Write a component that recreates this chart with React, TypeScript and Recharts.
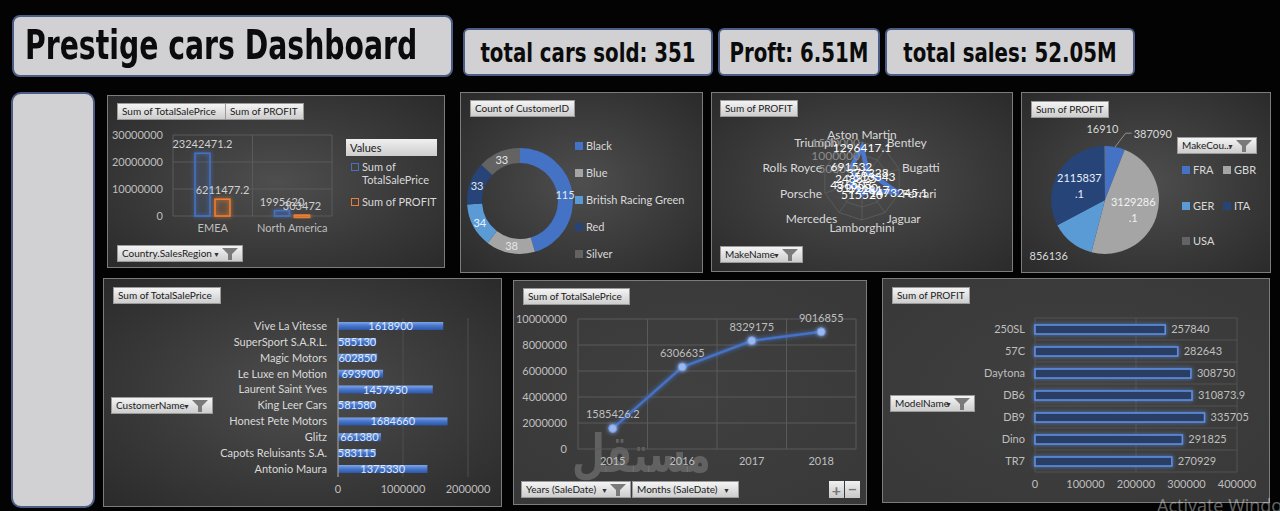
import React from "react";
import {
  BarChart,
  Bar,
  XAxis,
  YAxis,
  CartesianGrid,
  LabelList,
  PieChart,
  Pie,
  Cell,
  RadarChart,
  Radar,
  PolarGrid,
  PolarAngleAxis,
  PolarRadiusAxis,
  LineChart,
  Line,
} from "recharts";

// ---- data ----
const regionNames = ["EMEA", "North America"];
const regionSales = [23242471.2, 1995620];
const regionProfit = [6211477.2, 303472];

const colourNames = ["Black", "Blue", "British Racing Green", "Red", "Silver"];
const colourCounts = [115, 38, 34, 33, 33];

const makeNames = [
  "Aston Martin",
  "Bentley",
  "Bugatti",
  "Ferrari",
  "Jaguar",
  "Lamborghini",
  "Mercedes",
  "Porsche",
  "Rolls Royce",
  "Triumph",
];
const makeProfit = [1296417.1, 376228, 513343, 1473245.1, 422817, 515520, 319000, 436503, 248825, 691532];

const countryNames = ["FRA", "GBR", "GER", "ITA", "USA"];
const countryProfit = [387090, 3129286.1, 856136, 2115837.1, 16910];

const customerNames = [
  "Vive La Vitesse",
  "SuperSport S.A.R.L.",
  "Magic Motors",
  "Le Luxe en Motion",
  "Laurent Saint Yves",
  "King Leer Cars",
  "Honest Pete Motors",
  "Glitz",
  "Capots Reluisants S.A.",
  "Antonio Maura",
];
const customerSales = [1618900, 585130, 602850, 693900, 1457950, 581580, 1684660, 661380, 583115, 1375330];

const saleYears = ["2015", "2016", "2017", "2018"];
const yearSales = [1585426.2, 6306635, 8329175, 9016855];

const modelNames = ["250SL", "57C", "Daytona", "DB6", "DB9", "Dino", "TR7"];
const modelProfit = [257840, 282643, 308750, 310873.9, 335705, 291825, 270929];

const regionTicks = [0, 10000000, 20000000, 30000000];
const customerTicks = [0, 1000000, 2000000];
const yearTicks = [0, 2000000, 4000000, 6000000, 8000000, 10000000];
const modelTicks = [0, 100000, 200000, 300000, 400000];

// ---- styling ----
const BLUE = "#4472c4";
const ORANGE = "#ed7d31";
const GRAY = "#a5a5a5";
const LIGHT_BLUE = "#5b9bd5";
const DARK_BLUE = "#264478";
const DARK_GRAY = "#636363";
const sliceColours = [BLUE, GRAY, LIGHT_BLUE, DARK_BLUE, DARK_GRAY];
const AX = "#bfbfbf";
const GRID = "#5a5a5a";
const RADIAN = Math.PI / 180;

const regionData = regionNames.map((name, i) => ({ name, sales: regionSales[i], profit: regionProfit[i] }));
const colourData = colourNames.map((name, i) => ({ name, value: colourCounts[i] }));
const makeData = makeNames.map((name, i) => ({ name, value: makeProfit[i] }));
const countryData = countryNames.map((name, i) => ({ name, value: countryProfit[i] }));
const customerData = customerNames.map((name, i) => ({ name, value: customerSales[i] }));
const yearData = saleYears.map((name, i) => ({ name, value: yearSales[i] }));
const modelData = modelNames.map((name, i) => ({ name, value: modelProfit[i] }));

const at = (x: number, y: number, w: number, h: number): React.CSSProperties => ({
  position: "absolute",
  left: x,
  top: y,
  width: w,
  height: h,
});

const bandEdgesX = (n: number) => ({ offset }: any) =>
  Array.from({ length: n + 1 }, (_, i) => offset.left + (offset.width * i) / n);
const bandEdgesY = (n: number) => ({ offset }: any) =>
  Array.from({ length: n + 1 }, (_, i) => offset.top + (offset.height * i) / n);

function Panel({ x, y, w, h, flat }: { x: number; y: number; w: number; h: number; flat?: boolean }) {
  return (
    <div
      style={{
        ...at(x, y, w, h),
        background: flat
          ? "radial-gradient(ellipse at center, #404040 0%, #383838 100%)"
          : "radial-gradient(ellipse at center, #4e4e4e 0%, #383838 60%, #2a2a2a 100%)",
        boxShadow: "inset 0 0 0 1px #7c7c7c",
      }}
    />
  );
}

function Funnel() {
  return (
    <svg width="18" height="14" style={{ position: "absolute", right: 3, top: 1 }}>
      <path d="M1 1 H17 L11 7 V13 H7 V7 Z" fill="#7a7a7a" />
    </svg>
  );
}

function Btn({ x, y, w, text, slicer, arrow }: { x: number; y: number; w: number; text: string; slicer?: boolean; arrow?: boolean }) {
  return (
    <div
      style={{
        ...at(x, y, w, 17),
        boxSizing: "border-box",
        background: "linear-gradient(#f4f4f4, #cdcdcd)",
        border: "1px solid #9a9a9a",
        fontSize: 10,
        color: "#1a1a1a",
        lineHeight: "15px",
        paddingLeft: 4,
        whiteSpace: "nowrap",
        overflow: "hidden",
      }}
    >
      {text}
      {slicer && <span style={{ position: "absolute", right: 22, top: 1, fontSize: 7, color: "#333" }}>▼</span>}
      {slicer && <Funnel />}
      {arrow && <span style={{ position: "absolute", right: 8, top: 1, fontSize: 7, color: "#333" }}>▼</span>}
    </div>
  );
}

function LegendItem({ x, y, color, text, outline }: { x: number; y: number; color: string; text: string; outline?: boolean }) {
  return (
    <div style={{ position: "absolute", left: x, top: y - 8, fontSize: 11, color: "#d9d9d9", whiteSpace: "nowrap", lineHeight: "16px" }}>
      <span
        style={{
          display: "inline-block",
          boxSizing: "border-box",
          width: 8,
          height: 8,
          marginRight: 3,
          background: outline ? "transparent" : color,
          border: outline ? `1.5px solid ${color}` : "none",
        }}
      />
      {text}
    </div>
  );
}

const outlineBar = (stroke: string, fill: string, glow: string) => (p: any) =>
  (
    <rect
      x={p.x}
      y={p.y}
      width={p.width}
      height={Math.max(p.height, 2)}
      fill={fill}
      stroke={stroke}
      strokeWidth={1.6}
      filter={`url(#${glow})`}
    />
  );

const donutLabel = (p: any) => {
  const r = (p.innerRadius + p.outerRadius) / 2;
  const x = p.cx + r * Math.cos(-p.midAngle * RADIAN);
  const y = p.cy + r * Math.sin(-p.midAngle * RADIAN);
  return (
    <text x={x} y={y} fill={p.index === 2 ? "#e8f0ff" : "#e6e6e6"} fontSize={11} textAnchor="middle" dominantBaseline="central">
      {p.value}
    </text>
  );
};

const pieLabel = (p: any) => {
  const cos = Math.cos(-p.midAngle * RADIAN);
  const sin = Math.sin(-p.midAngle * RADIAN);
  const txt = String(p.value);
  if (p.percent > 0.2) {
    const r = p.outerRadius * 0.55;
    const [a, b] = txt.split(".");
    const x = p.cx + r * cos;
    const y = p.cy + r * sin;
    return (
      <text x={x} y={y} fill={p.index === 1 ? "#f2f2f2" : "#e8eefa"} fontSize={11} textAnchor="middle">
        <tspan x={x} dy={-3}>{a}</tspan>
        {b && <tspan x={x} dy={16}>.{b}</tspan>}
      </text>
    );
  }
  if (p.index === 0) {
    const sx = p.cx + p.outerRadius * cos;
    const sy = p.cy + p.outerRadius * sin;
    const ex = p.cx + (p.outerRadius + 14) * cos + 8;
    const ey = p.cy + (p.outerRadius + 14) * sin;
    return (
      <g>
        <polyline points={`${sx},${sy} ${ex},${ey} ${ex + 6},${ey}`} fill="none" stroke="#a6a6a6" strokeWidth={0.8} />
        <text x={ex + 8} y={ey} fill="#d9d9d9" fontSize={11} dominantBaseline="central">
          {txt}
        </text>
      </g>
    );
  }
  if (p.index === 4) {
    const x = p.cx + (p.outerRadius + 18) * cos - 2;
    const y = p.cy + (p.outerRadius + 18) * sin;
    return (
      <text x={x} y={y} fill="#d9d9d9" fontSize={11} textAnchor="middle" dominantBaseline="central">
        {txt}
      </text>
    );
  }
  const x = p.cx + (p.outerRadius + 6) * cos;
  const y = p.cy + (p.outerRadius + 6) * sin;
  return (
    <text x={x} y={y + 8} fill="#d9d9d9" fontSize={11} textAnchor="end" dominantBaseline="central">
      {txt}
    </text>
  );
};

const radiusTick = (p: any) =>
  p.payload.value === 0 ? (
    <g />
  ) : (
    <text x={p.x - 2} y={p.y} fill="#8c8c8c" fontSize={12} textAnchor="end" dominantBaseline="central">
      {p.payload.value}
    </text>
  );

const titleFont = '"DejaVu Sans", sans-serif';

export default function App() {
  return (
    <div
      style={{
        position: "fixed",
        left: 0,
        top: 0,
        width: 1280,
        height: 511,
        overflow: "hidden",
        background: "#030303",
        fontFamily: 'Lato, "Open Sans", sans-serif',
      }}
    >
      <svg width="0" height="0" style={{ position: "absolute" }}>
        <defs>
          <filter id="glowBlue" x="-50%" y="-50%" width="200%" height="200%">
            <feGaussianBlur in="SourceGraphic" stdDeviation="2.2" result="b" />
            <feMerge>
              <feMergeNode in="b" />
              <feMergeNode in="SourceGraphic" />
            </feMerge>
          </filter>
          <filter id="glowOrange" x="-50%" y="-50%" width="200%" height="200%">
            <feGaussianBlur in="SourceGraphic" stdDeviation="2.2" result="b" />
            <feMerge>
              <feMergeNode in="b" />
              <feMergeNode in="SourceGraphic" />
            </feMerge>
          </filter>
          <linearGradient id="custBar" x1="0" y1="0" x2="0" y2="1">
            <stop offset="0%" stopColor="#7ea6e8" />
            <stop offset="45%" stopColor="#4a78cc" />
            <stop offset="100%" stopColor="#2c56a8" />
          </linearGradient>
        </defs>
      </svg>

      {/* title + KPI boxes */}
      <div
        style={{
          ...at(12, 15, 441, 62),
          boxSizing: "border-box",
          background: "#d1d0d2",
          border: "2px solid #4b5d86",
          borderRadius: 8,
          overflow: "hidden",
        }}
      >
        <span
          style={{
            position: "absolute",
            left: 11,
            top: 0,
            fontFamily: titleFont,
            fontWeight: 700,
            fontSize: 41,
            lineHeight: "56px",
            color: "#0b0b0b",
            whiteSpace: "nowrap",
            transform: "scaleX(0.69)",
            transformOrigin: "left center",
          }}
        >
          Prestige cars Dashboard
        </span>
      </div>
      {[
        { x: 463, w: 250, t: "total cars sold: 351" },
        { x: 718, w: 162, t: "Proft: 6.51M" },
        { x: 885, w: 250, t: "total sales: 52.05M" },
      ].map((k) => (
        <div
          key={k.t}
          style={{
            ...at(k.x, 28, k.w, 48),
            boxSizing: "border-box",
            background: "#d1d0d2",
            border: "2px solid #4b5d86",
            borderRadius: 6,
            overflow: "hidden",
          }}
        >
          <span
            style={{
              position: "absolute",
              left: "50%",
              top: 0,
              fontFamily: titleFont,
              fontWeight: 700,
              fontSize: 26,
              lineHeight: "46px",
              color: "#0b0b0b",
              whiteSpace: "nowrap",
              transform: "translateX(-50%) scaleX(0.76)",
              transformOrigin: "center",
            }}
          >
            {k.t}
          </span>
        </div>
      ))}
      <div
        style={{
          ...at(11, 92, 84, 416),
          boxSizing: "border-box",
          background: "#d1d0d2",
          border: "2px solid #4b5d86",
          borderRadius: 10,
        }}
      />

      {/* panel backgrounds */}
      <Panel x={107} y={95} w={338} h={173} />
      <Panel x={460} y={92} w={243} h={181} />
      <Panel x={711} y={92} w={302} h={180} />
      <Panel x={1021} y={92} w={250} h={181} />
      <Panel x={103} y={278} w={399} h={229} />
      <Panel x={513} y={280} w={354} h={225} flat />
      <Panel x={882} y={278} w={388} h={225} flat />

      {/* region bar chart */}
      <div style={at(107, 95, 338, 173)}>
        <BarChart width={338} height={173} data={regionData} margin={{ top: 40, right: 113, bottom: 32, left: 0 }} barGap={5} barSize={15}>
          <CartesianGrid stroke={GRID} verticalCoordinatesGenerator={bandEdgesX(2)} />
          <XAxis dataKey="name" axisLine={false} tickLine={false} tick={{ fill: AX, fontSize: 11 }} interval={0} height={20} />
          <YAxis width={66} domain={[0, 30000000]} ticks={regionTicks} axisLine={false} tickLine={false} tickSize={0} tickMargin={10} tick={{ fill: AX, fontSize: 11 }} />
          <Bar dataKey="sales" isAnimationActive={false} shape={outlineBar(BLUE, "rgba(68,114,196,0.08)", "glowBlue")}>
            <LabelList dataKey="sales" position="top" fill="#d0d0d0" fontSize={11} />
          </Bar>
          <Bar dataKey="profit" isAnimationActive={false} shape={outlineBar(ORANGE, "rgba(237,125,49,0.1)", "glowOrange")}>
            <LabelList dataKey="profit" position="top" fill="#d0d0d0" fontSize={11} />
          </Bar>
        </BarChart>
      </div>
      <Btn x={117} y={103} w={109} text="Sum of TotalSalePrice" />
      <Btn x={225} y={103} w={79} text="Sum of PROFIT" />
      <Btn x={117} y={245} w={126} text="Country.SalesRegion" slicer />
      <div
        style={{
          ...at(346, 139, 91, 17),
          background: "linear-gradient(#f0f0f0, #cdcdcd)",
          fontSize: 11,
          lineHeight: "17px",
          paddingLeft: 4,
          boxSizing: "border-box",
          color: "#1a1a1a",
        }}
      >
        Values
      </div>
      <LegendItem x={351} y={167} color={BLUE} text="Sum of" outline />
      <div style={{ position: "absolute", left: 362, top: 173, fontSize: 11, color: "#d9d9d9" }}>TotalSalePrice</div>
      <LegendItem x={351} y={202} color={ORANGE} text="Sum of PROFIT" outline />

      {/* colour donut */}
      <div style={at(460, 92, 243, 181)}>
        <PieChart width={243} height={181}>
          <Pie
            data={colourData}
            dataKey="value"
            cx={55}
            cy={104}
            innerRadius={38}
            outerRadius={53}
            startAngle={90}
            endAngle={-270}
            stroke="none"
            label={donutLabel}
            labelLine={false}
            isAnimationActive={false}
          >
            {colourData.map((d, i) => (
              <Cell key={d.name} fill={sliceColours[i]} />
            ))}
          </Pie>
        </PieChart>
      </div>
      <Btn x={470} y={100} w={105} text="Count of CustomerID" />
      {colourNames.map((n, i) => (
        <LegendItem key={n} x={575} y={146 + i * 27} color={sliceColours[i]} text={n} />
      ))}

      {/* make radar */}
      <div style={at(711, 92, 302, 180)}>
        <RadarChart width={302} height={180} cx={151} cy={89} outerRadius={39} data={makeData}>
          <PolarGrid stroke={GRID} />
          <PolarAngleAxis dataKey="name" tick={{ fill: "#d9d9d9", fontSize: 12 }} tickLine={false} tickSize={3} />
          <PolarRadiusAxis angle={90} domain={[0, 1500000]} tickCount={4} axisLine={false} tick={radiusTick} />
          <Radar
            dataKey="value"
            stroke="#4a78d0"
            strokeWidth={4.5}
            fill={BLUE}
            fillOpacity={0}
            dot={false}
            isAnimationActive={false}
            label={{ fill: "#ffffff", fontSize: 12 }}
          />
        </RadarChart>
      </div>
      <Btn x={720} y={100} w={78} text="Sum of PROFIT" />
      <Btn x={720} y={246} w={83} text="MakeName" slicer />

      {/* country pie */}
      <div style={at(1021, 92, 250, 181)}>
        <PieChart width={250} height={181}>
          <Pie
            data={countryData}
            dataKey="value"
            cx={79}
            cy={103}
            outerRadius={54}
            startAngle={90}
            endAngle={-270}
            stroke="none"
            label={pieLabel}
            labelLine={false}
            isAnimationActive={false}
          >
            {countryData.map((d, i) => (
              <Cell key={d.name} fill={sliceColours[i]} />
            ))}
          </Pie>
        </PieChart>
      </div>
      <Btn x={1031} y={101} w={78} text="Sum of PROFIT" />
      <Btn x={1177} y={137} w={80} text="MakeCou..." slicer />
      {countryNames.map((n, i) => (
        <LegendItem key={n} x={i % 2 === 0 ? 1182 : 1223} y={170 + Math.floor(i / 2) * 35.5} color={sliceColours[i]} text={n} />
      ))}

      {/* customer bars */}
      <div style={at(103, 278, 399, 229)}>
        <BarChart width={399} height={229} layout="vertical" data={customerData} margin={{ top: 40, right: 34, bottom: 10, left: 0 }} barSize={8}>
          <CartesianGrid stroke="#4f4f4f" horizontal={false} />
          <XAxis type="number" domain={[0, 2000000]} ticks={customerTicks} axisLine={false} tickLine={false} tick={{ fill: AX, fontSize: 11 }} height={20} />
          <YAxis type="category" dataKey="name" width={235} axisLine={{ stroke: "#a6a6a6" }} tickLine={false} tickSize={0} tickMargin={11} tick={{ fill: "#d9d9d9", fontSize: 11 }} interval={0} />
          <Bar dataKey="value" fill="url(#custBar)" isAnimationActive={false}>
            <LabelList dataKey="value" position="center" fill="#dfe8f8" fontSize={11} />
          </Bar>
        </BarChart>
      </div>
      <Btn x={113} y={287} w={108} text="Sum of TotalSalePrice" />
      <Btn x={111} y={397} w={102} text="CustomerName" slicer />

      {/* yearly line, with the faded site watermark behind it */}
      <div
        style={{
          position: "absolute",
          left: 572,
          top: 424,
          fontFamily: '"DejaVu Sans", sans-serif',
          fontSize: 52,
          lineHeight: "60px",
          fontWeight: 700,
          color: "rgba(150,150,150,0.42)",
          whiteSpace: "nowrap",
          transform: "scaleX(0.73)",
          transformOrigin: "left",
        }}
      >
        مستقل
      </div>
      <div style={at(513, 280, 354, 225)}>
        <LineChart width={354} height={225} data={yearData} margin={{ top: 39, right: 11, bottom: 31, left: 0 }}>
          <CartesianGrid stroke={GRID} verticalCoordinatesGenerator={bandEdgesX(4)} />
          <XAxis dataKey="name" scale="band" axisLine={false} tickLine={false} tick={{ fill: AX, fontSize: 11 }} height={25} />
          <YAxis width={65} domain={[0, 10000000]} ticks={yearTicks} axisLine={false} tickLine={false} tickSize={0} tickMargin={11} tick={{ fill: AX, fontSize: 11 }} />
          <Line
            dataKey="value"
            stroke={BLUE}
            strokeWidth={2.5}
            filter="url(#glowBlue)"
            dot={{ r: 4, fill: "#9bb8ee", stroke: "#6d95dc", strokeWidth: 1 }}
            isAnimationActive={false}
          >
            <LabelList dataKey="value" position="top" offset={10} fill={AX} fontSize={11} />
          </Line>
        </LineChart>
      </div>
      <Btn x={523} y={288} w={107} text="Sum of TotalSalePrice" />
      <Btn x={521} y={481} w={110} text="Years (SaleDate)" slicer />
      <Btn x={632} y={481} w={107} text="Months (SaleDate)" arrow />
      <div style={{ ...at(829, 481, 15, 17), background: "linear-gradient(#f0f0f0,#c8c8c8)", color: "#777", fontSize: 16, fontWeight: 700, textAlign: "center", lineHeight: "17px" }}>+</div>
      <div style={{ ...at(845, 481, 15, 17), background: "linear-gradient(#f0f0f0,#c8c8c8)", color: "#777", fontSize: 16, fontWeight: 700, textAlign: "center", lineHeight: "15px" }}>−</div>

      {/* model bars */}
      <div style={at(882, 278, 388, 225)}>
        <BarChart width={388} height={225} layout="vertical" data={modelData} margin={{ top: 40, right: 33, bottom: 11, left: 0 }} barSize={9}>
          <CartesianGrid stroke="#525252" horizontalCoordinatesGenerator={bandEdgesY(7)} />
          <XAxis type="number" domain={[0, 400000]} ticks={modelTicks} axisLine={false} tickLine={false} tick={{ fill: AX, fontSize: 11 }} height={20} />
          <YAxis type="category" dataKey="name" width={153} axisLine={false} tickLine={false} tickSize={0} tickMargin={10} tick={{ fill: AX, fontSize: 11 }} interval={0} />
          <Bar dataKey="value" isAnimationActive={false} shape={outlineBar("#5d8ee0", "#2a3c62", "glowBlue")}>
            <LabelList dataKey="value" position="right" offset={6} fill={AX} fontSize={11} />
          </Bar>
        </BarChart>
      </div>
      <Btn x={892} y={287} w={78} text="Sum of PROFIT" />
      <Btn x={890} y={395} w={85} text="ModelName" slicer />

      <div style={{ position: "absolute", left: 1157, top: 493, fontSize: 18, color: "rgba(255,255,255,0.4)", whiteSpace: "nowrap", fontFamily: '"Open Sans", sans-serif' }}>
        Activate Windows
      </div>
    </div>
  );
}
